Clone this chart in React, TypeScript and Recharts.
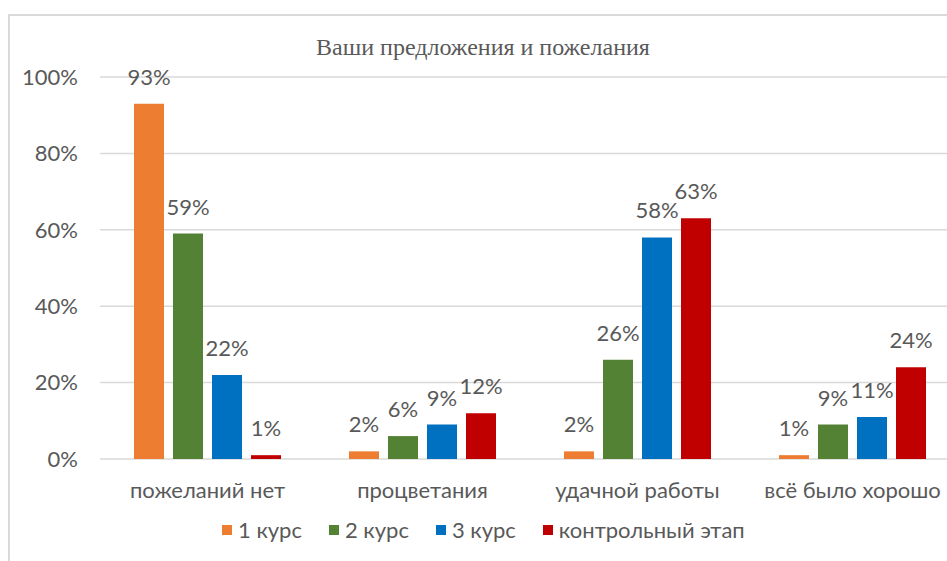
import { BarChart, Bar, XAxis, YAxis, CartesianGrid, LabelList } from 'recharts'

const categories = ['пожеланий нет', 'процветания', 'удачной работы', 'всё было хорошо']
const course1 = [93, 2, 2, 1]
const course2 = [59, 6, 26, 9]
const course3 = [22, 9, 58, 11]
const control = [1, 12, 63, 24]
const yTicks = [0, 20, 40, 60, 80, 100]

const seriesList = [
  { key: 'c1', name: '1 курс', values: course1, color: '#ED7D31' },
  { key: 'c2', name: '2 курс', values: course2, color: '#548235' },
  { key: 'c3', name: '3 курс', values: course3, color: '#0070C0' },
  { key: 'ctl', name: 'контрольный этап', values: control, color: '#C00000' },
]

const data = categories.map((name, i) => {
  const row: Record<string, string | number> = { name }
  seriesList.forEach(s => { row[s.key] = s.values[i] })
  return row
})

const FONT = 'Lato, "Liberation Sans", sans-serif'
const GRAY = '#595959'
const FS = 22

export default function App() {
  return (
    <div style={{ position: 'fixed', left: 0, top: 0, width: 947, height: 561, overflow: 'hidden', background: '#fff' }}>
      <div style={{
        position: 'absolute', left: 8, top: 14, width: 1000, height: 600,
        borderLeft: '2px solid #d9d9d9', borderTop: '2px solid #d9d9d9',
      }} />
      <div style={{
        position: 'absolute', left: 0, width: 966, top: 34, textAlign: 'center',
        fontFamily: '"Liberation Serif", serif', fontSize: 24, color: GRAY,
      }}>
        Ваши предложения и пожелания
      </div>
      <div style={{ position: 'absolute', left: 0, top: 0 }}>
        <BarChart
          width={960}
          height={561}
          data={data}
          barSize={30}
          barGap={9}
          margin={{ top: 77, right: 0, left: 0, bottom: 62 }}
        >
          <CartesianGrid vertical={false} stroke="#d9d9d9" strokeWidth={1.5} />
          <XAxis
            dataKey="name"
            axisLine={false}
            tickLine={false}
            tickSize={0}
            tickMargin={23}
            height={40}
            tick={{ fill: GRAY, fontSize: FS, fontFamily: FONT }}
          />
          <YAxis
            domain={[0, 100]}
            ticks={yTicks}
            width={100}
            axisLine={false}
            tickLine={false}
            tickSize={0}
            tickMargin={22}
            tickFormatter={(v: number) => `${v}%`}
            tick={{ fill: GRAY, fontSize: FS, fontFamily: FONT }}
          />
          {seriesList.map(s => (
            <Bar key={s.key} dataKey={s.key} name={s.name} fill={s.color} isAnimationActive={false}>
              <LabelList
                dataKey={s.key}
                position="top"
                offset={19}
                formatter={(v: number) => `${v}%`}
                style={{ fill: GRAY, fontSize: FS, fontFamily: FONT }}
              />
            </Bar>
          ))}
        </BarChart>
      </div>
      <div style={{
        position: 'absolute', top: 516, left: 222, display: 'flex', alignItems: 'center',
        fontFamily: FONT, fontSize: FS, color: GRAY,
      }}>
        {seriesList.map(s => (
          <div key={s.key} style={{ display: 'flex', alignItems: 'center', marginRight: 27 }}>
            <span style={{ width: 10, height: 10, background: s.color, marginRight: 6, display: 'inline-block' }} />
            <span>{s.name}</span>
          </div>
        ))}
      </div>
    </div>
  )
}
